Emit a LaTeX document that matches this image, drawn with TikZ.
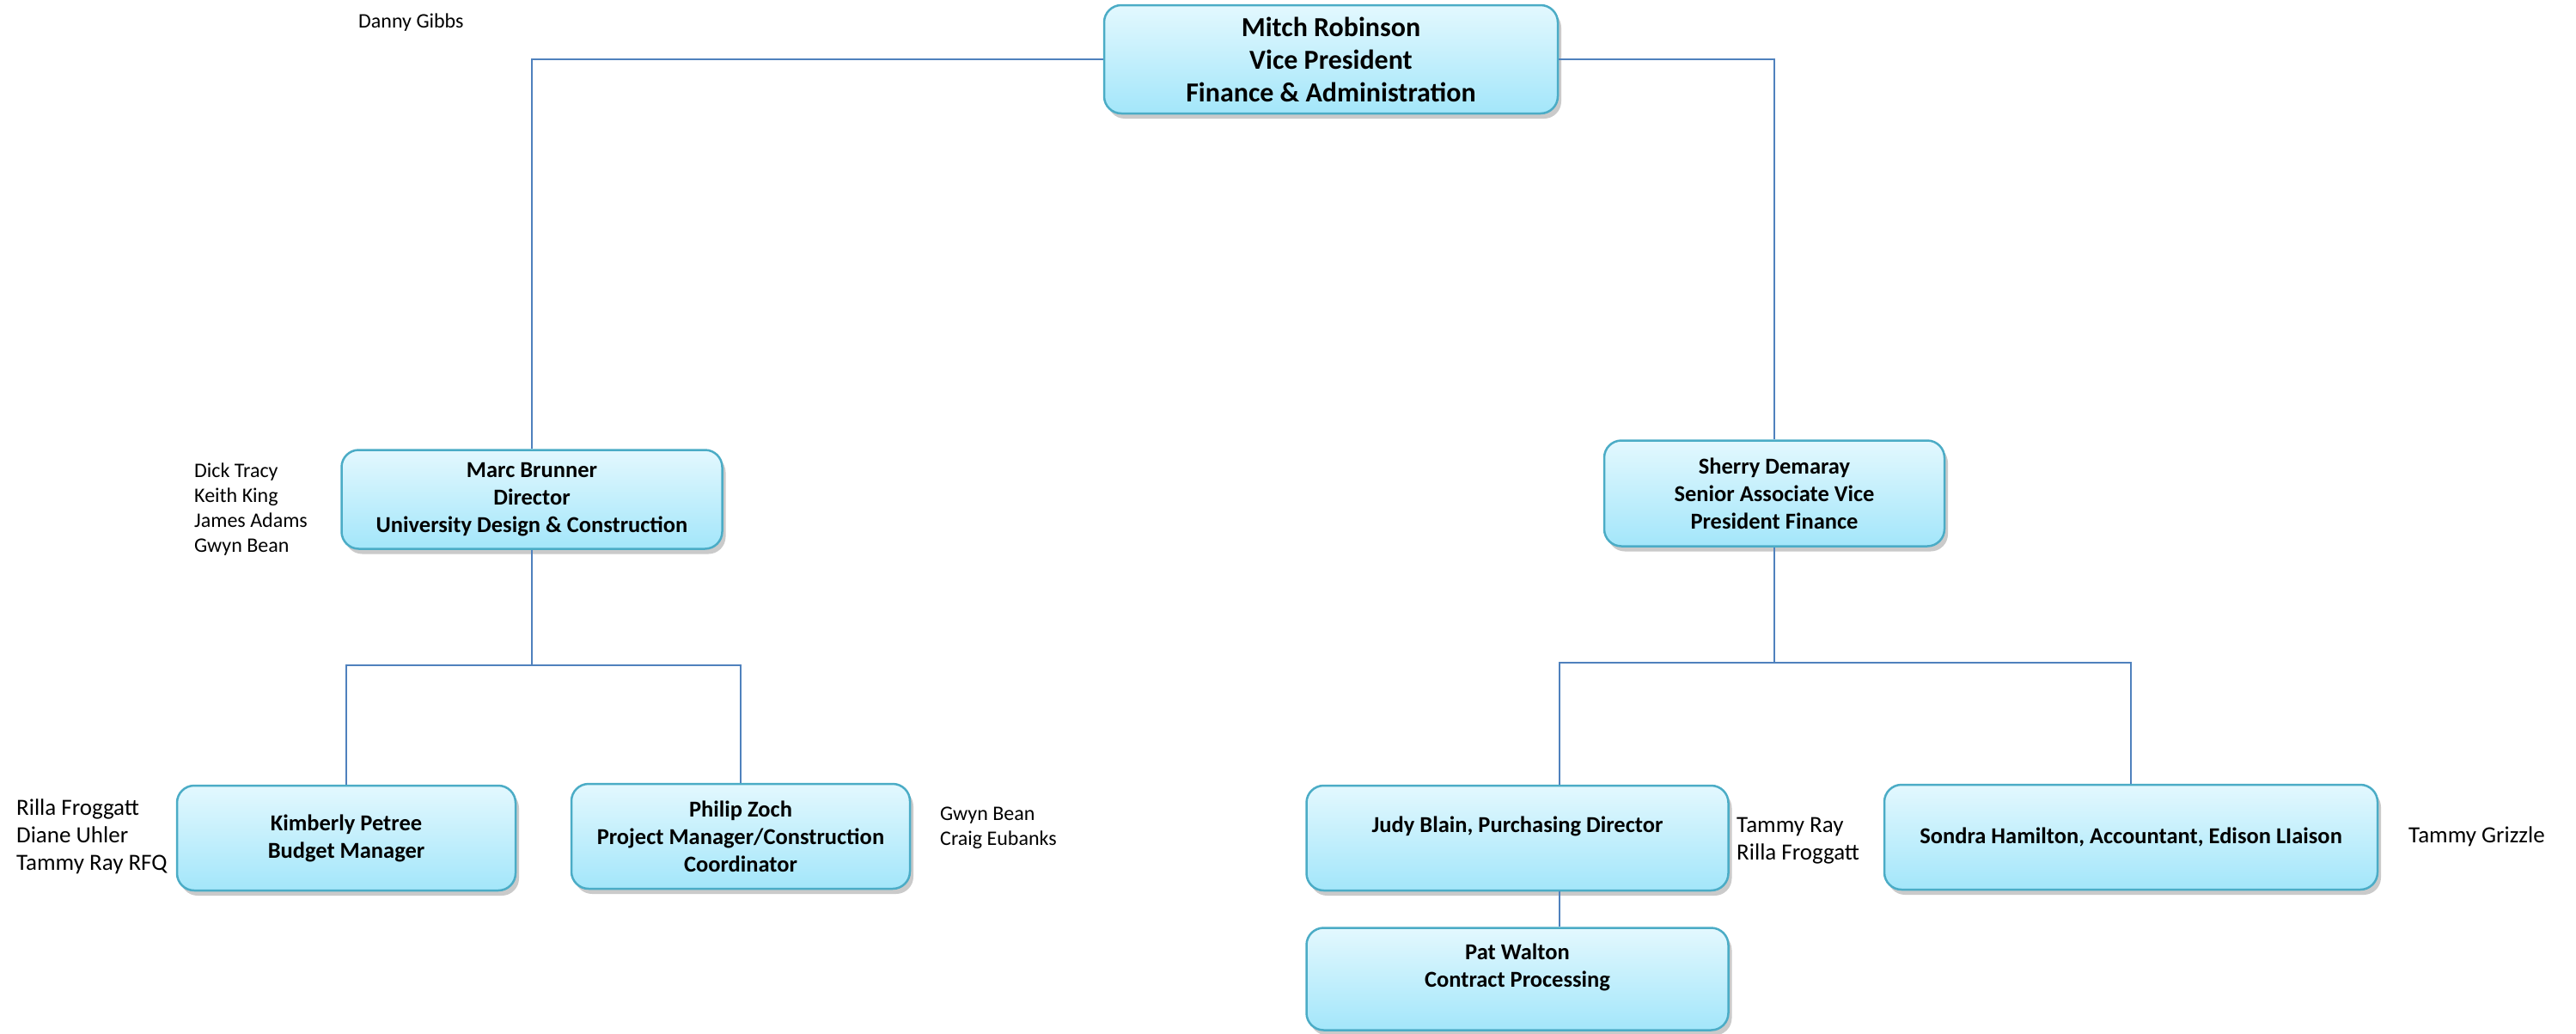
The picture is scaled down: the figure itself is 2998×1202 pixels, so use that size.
\documentclass[tikz,border=0pt]{standalone}
\usepackage{fontspec}
\setmainfont{Carlito}
\usetikzlibrary{shadows}
\definecolor{boxtop}{HTML}{E3F8FE}
\definecolor{boxbot}{HTML}{A3E6FA}
\definecolor{boxline}{HTML}{4BACC6}
\definecolor{conn}{HTML}{4F81BD}
\tikzset{
  orgbox/.style={rectangle, rounded corners=20pt, top color=boxtop, bottom color=boxbot,
    draw=boxline, line width=2.5pt, align=center, inner sep=0pt,
    font=\bfseries\fontsize{26.5pt}{32pt}\selectfont,
    drop shadow={shadow xshift=4pt, shadow yshift=-6pt, opacity=0.35, fill=black!60}},
  topbox/.style={orgbox, font=\bfseries\fontsize{32pt}{38pt}\selectfont},
  side/.style={anchor=north west, align=left, inner sep=0pt, font=\fontsize{24pt}{29pt}\selectfont},
  sidebig/.style={side, font=\fontsize{27pt}{32pt}\selectfont},
  link/.style={draw=conn, line width=2pt}
}
\begin{document}
\begin{tikzpicture}[x=1pt, y=-1pt]
\useasboundingbox (0,0) rectangle (2998,1202);
% boxes
\node[topbox, minimum width=528pt, minimum height=126pt] (vp) at (1549,69)
  {Mitch Robinson\\Vice President\\Finance \& Administration};
\node[orgbox, minimum width=443pt, minimum height=115pt] (marc) at (619,581)
  {Marc Brunner\\Director\\University Design \& Construction};
\node[orgbox, minimum width=396pt, minimum height=123pt] (sherry) at (2065,574)
  {Sherry Demaray\\Senior Associate Vice\\President Finance};
\node[orgbox, minimum width=394pt, minimum height=122pt] (kim) at (403,975)
  {Kimberly Petree\\Budget Manager};
\node[orgbox, minimum width=394pt, minimum height=122pt] (phil) at (862,973)
  {Philip Zoch\\Project Manager/Construction\\Coordinator};
\node[orgbox, minimum width=491pt, minimum height=122pt] (judy) at (1766,975)
  {Judy Blain, Purchasing Director\\\mbox{}};
\node[orgbox, minimum width=491pt, minimum height=119pt] (pat) at (1766,1139)
  {Pat Walton\\Contract Processing\\\mbox{}};
\node[orgbox, minimum width=574pt, minimum height=122pt] (sondra) at (2480,974)
  {Sondra Hamilton, Accountant, Edison LIaison};
% side texts
\node[side] (danny) at (417,16) {Danny Gibbs};
\node[side] (marcteam) at (226,539) {Dick Tracy\\Keith King\\James Adams\\Gwyn Bean};
\node[sidebig] (kimteam) at (19,930) {Rilla Froggatt\\Diane Uhler\\Tammy Ray RFQ};
\node[side] (philteam) at (1094,939) {Gwyn Bean\\Craig Eubanks};
\node[sidebig] (judyteam) at (2021,951) {Tammy Ray\\Rilla Froggatt};
\node[sidebig] (sondrateam) at (2803,962) {Tammy Grizzle};
% connectors
\coordinate (mbus) at (619,774);
\coordinate (sbus) at (2065,771);
\coordinate (sbl) at (1815,771);
\coordinate (sbr) at (2480,771);
\draw[link] (vp.west) -| (marc.north);
\draw[link] (vp.east) -| (sherry.north);
\draw[link] (marc.south) -- (mbus);
\draw[link] (kim.north) |- (mbus) -| (phil.north);
\draw[link] (sherry.south) -- (sbus);
\draw[link] (sbl |- judy.north) -- (sbl) -- (sbr) -- (sondra.north);
\draw[link] (sbl |- judy.south) -- (sbl |- pat.north);
\end{tikzpicture}
\end{document}
